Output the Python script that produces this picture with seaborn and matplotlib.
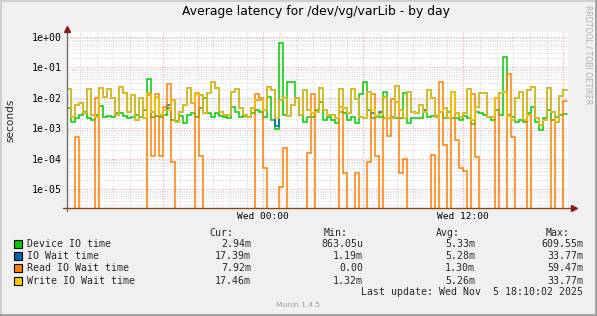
import numpy as np
import pandas as pd
import matplotlib
matplotlib.use("Agg")
import matplotlib.pyplot as plt
import matplotlib.dates as mdates
import matplotlib.ticker as mticker
from matplotlib.patches import Rectangle
from matplotlib.lines import Line2D
import seaborn as sns

# ---------------- data ----------------
series_names = ["Device IO time", "IO Wait time", "Read IO Wait time", "Write IO Wait time"]
series_colors = ["#00CC00", "#0066B3", "#FF8000", "#FFCC00"]

start_time = "2025-11-04 12:13:12"
sample_step = "864s"

device_io = [
    0.0045, 0.00163, 0.0021, 0.0027, 0.0035, 0.0021, 0.00185, 0.0027, 0.0053, 0.0024, 0.0025, 0.0023, 0.0032,
    0.0032, 0.0025, 0.0021, 0.0024, 0.0027, 0.0023, 0.0039, 0.040, 0.0023, 0.0025, 0.0023, 0.0027,
    0.0045, 0.00185, 0.00176, 0.0025, 0.00144, 0.0027, 0.0032, 0.0024, 0.0045, 0.0095, 0.0031, 0.0024, 0.0031,
    0.0025, 0.0024, 0.0021, 0.0051, 0.0035, 0.0023, 0.0025, 0.0023, 0.0032, 0.0041, 0.0035, 0.0023,
    0.0108, 0.00185, 0.00095, 0.60955, 0.0027, 0.0335, 0.0335, 0.0095, 0.0027, 0.00163, 0.0023, 0.0023, 0.0039,
    0.0074, 0.0019, 0.0023, 0.00185, 0.00151, 0.0035, 0.0032, 0.0019, 0.0023, 0.00144, 0.0132, 0.0335,
    0.0039, 0.0021, 0.0023, 0.0024, 0.0157, 0.0021, 0.0024, 0.0021, 0.0021, 0.0139, 0.00144, 0.0021, 0.0021,
    0.0021, 0.0035, 0.0023, 0.0025, 0.0025, 0.0035, 0.0021, 0.0035, 0.0021, 0.0021, 0.0019, 0.0025,
    0.0021, 0.00137, 0.0035, 0.0031, 0.0027, 0.0023, 0.00185, 0.0039, 0.0027, 0.21, 0.0027, 0.0023, 0.00163,
    0.00185, 0.00163, 0.0031, 0.0051, 0.00163, 0.000863, 0.0021, 0.0039, 0.00185, 0.0023, 0.0027, 0.00294,
]

write_io_wait = [
    0.0188, 0.0023, 0.0058, 0.0069, 0.0031, 0.0188, 0.0027, 0.0023, 0.0202, 0.0108, 0.0188, 0.0095, 0.0027,
    0.0230, 0.0139, 0.0035, 0.0122, 0.00185, 0.0095, 0.0021, 0.0139, 0.0035, 0.0108, 0.0027, 0.0041,
    0.0039, 0.0084, 0.00163, 0.0035, 0.0058, 0.0202, 0.0069, 0.0139, 0.0122, 0.0031, 0.0139, 0.03377, 0.0202,
    0.0035, 0.0027, 0.0027, 0.0157, 0.0188, 0.0045, 0.0027, 0.0023, 0.0045, 0.0084, 0.0084, 0.0039,
    0.0218, 0.0178, 0.0021, 0.0084, 0.0095, 0.0025, 0.0058, 0.0095, 0.0027, 0.0178, 0.0039, 0.0031, 0.0035,
    0.0202, 0.0039, 0.0027, 0.0027, 0.0021, 0.0188, 0.0045, 0.0031, 0.0188, 0.0088, 0.0024, 0.0021,
    0.0157, 0.0039, 0.0025, 0.0029, 0.0108, 0.0021, 0.0021, 0.0241, 0.0039, 0.0021, 0.0157, 0.0035, 0.0031,
    0.0058, 0.0035, 0.0178, 0.0095, 0.0023, 0.0035, 0.0045, 0.0021, 0.0157, 0.0032, 0.0024, 0.0031,
    0.0188, 0.00185, 0.0048, 0.0146, 0.0146, 0.0024, 0.0023, 0.0095, 0.0139, 0.0157, 0.0025, 0.00185, 0.0095,
    0.0157, 0.00185, 0.0178, 0.0218, 0.0021, 0.00132, 0.0019, 0.0202, 0.0035, 0.00163, 0.0113, 0.01746,
]

io_wait = [
    0.0188, 0.0023, 0.0058, 0.0069, 0.0031, 0.0188, 0.0027, 0.0023, 0.0202, 0.0108, 0.0188, 0.0095, 0.0027,
    0.0230, 0.0139, 0.0035, 0.0122, 0.00185, 0.0095, 0.0021, 0.0139, 0.0035, 0.0108, 0.0027, 0.0041,
    0.0058, 0.0084, 0.00163, 0.0035, 0.0058, 0.0202, 0.0069, 0.0139, 0.0122, 0.0031, 0.0139, 0.03377, 0.0202,
    0.0035, 0.0027, 0.0027, 0.0157, 0.0188, 0.0045, 0.0027, 0.0023, 0.0045, 0.0084, 0.0084, 0.0039,
    0.0218, 0.0178, 0.00119, 0.0084, 0.0095, 0.0025, 0.0058, 0.0095, 0.0027, 0.0178, 0.0039, 0.0031, 0.0035,
    0.0202, 0.0039, 0.0027, 0.0027, 0.0021, 0.0188, 0.0045, 0.0031, 0.0188, 0.0088, 0.0024, 0.0021,
    0.0157, 0.0031, 0.0025, 0.0035, 0.0108, 0.0021, 0.0021, 0.0241, 0.0039, 0.0021, 0.0157, 0.0035, 0.0031,
    0.0058, 0.0039, 0.0178, 0.0095, 0.0023, 0.0035, 0.0045, 0.0021, 0.0157, 0.0032, 0.0024, 0.0031,
    0.0188, 0.00185, 0.0048, 0.0146, 0.0146, 0.0024, 0.0023, 0.0095, 0.0139, 0.0157, 0.0025, 0.00185, 0.0095,
    0.0157, 0.00185, 0.0178, 0.0218, 0.0021, 0.00132, 0.0019, 0.0202, 0.0035, 0.00163, 0.0113, 0.01739,
]

read_io_wait = [
    0, 0, 5e-4, 0, 0, 0, 0, 1e-2, 0, 0, 0, 0, 0,
    0, 0, 0, 0, 0, 0, 0, 1.2e-2, 1.2e-4, 1.3e-2, 1.2e-4, 5e-3,
    2.8e-2, 8e-5, 0, 0, 0, 0, 0, 1.3e-2, 1.2e-4, 0, 0, 0, 0,
    0, 0, 0, 0, 0, 0, 0, 0, 0, 1.3e-2, 1.0e-2, 5e-5,
    0, 0, 0, 1.2e-5, 2.2e-4, 0, 0, 0, 0, 0, 1.5e-4, 1.3e-2, 0,
    0, 0, 0, 0, 0, 5e-3, 3.5e-5, 0, 0, 3.5e-5, 0, 0,
    8e-5, 1.3e-2, 1.2e-4, 0, 2.1e-3, 5.5e-4, 8.8e-3, 7.4e-3, 3.5e-5, 1e-4, 0, 0, 0,
    0, 0, 0, 1.3e-4, 0, 3.3e-2, 2.8e-4, 0, 1.5e-2, 4e-4, 5e-5, 4e-5,
    0, 1.3e-2, 1.1e-4, 0, 0, 0, 0, 9.5e-3, 0, 0, 0.05947, 5e-4, 0,
    0, 0, 2.7e-3, 0, 0, 0, 0, 0, 1.85e-3, 0, 0, 0.00792,
]

stat_headers = ["Cur:", "Min:", "Avg:", "Max:"]
stat_cur = ["2.94m", "17.39m", "7.92m", "17.46m"]
stat_min = ["863.05u", "1.19m", "0.00", "1.32m"]
stat_avg = ["5.33m", "5.28m", "1.30m", "5.26m"]
stat_max = ["609.55m", "33.77m", "59.47m", "33.77m"]

title = "Average latency for /dev/vg/varLib - by day"
y_label = "seconds"
last_update = "Last update: Wed Nov  5 18:10:02 2025"
watermark = "RRDTOOL / TOBI OETIKER"
footer = "Munin 1.4.5"

# ---------------- figure ----------------
sns.set_style("white")
W, H = 597, 316
fig = plt.figure(figsize=(W / 100, H / 100), dpi=100, facecolor="#F0F0F0")


def fx(px):
    return px / W


def fy(py):
    return 1 - py / H


MONO = "DejaVu Sans Mono"
SANS = "DejaVu Sans"

ax = fig.add_axes([fx(67), fy(208), fx(568) - fx(67), fy(32) - fy(208)])
ax.set_facecolor("white")

n = len(device_io)
times = pd.date_range(start_time, periods=n + 1, freq=sample_step)
frames = []
for name, vals in zip(series_names, [device_io, io_wait, read_io_wait, write_io_wait]):
    v = list(vals) + [vals[-1]]
    frames.append(pd.DataFrame({"time": times, "value": v, "series": name}))
df = pd.concat(frames, ignore_index=True)

sns.lineplot(data=df, x="time", y="value", hue="series", hue_order=series_names,
             palette=series_colors, drawstyle="steps-post",
             legend=False, estimator=None, ax=ax, zorder=3)
for ln in ax.lines:
    ln.set_linewidth(1.1)
    ln.set_antialiased(True)
    ln.set_solid_joinstyle("miter")

ax.set_yscale("log")
ax.set_ylim(2.42e-6, 1.43)
t0 = pd.Timestamp(start_time)
ax.set_xlim(t0, t0 + pd.Timedelta(seconds=216 * 501))

ax.xaxis.set_major_locator(mdates.HourLocator(byhour=[0, 6, 12, 18]))
ax.xaxis.set_minor_locator(mdates.HourLocator())


def xfmt(v, pos):
    d = mdates.num2date(v)
    if d.hour in (0, 12) and d.minute == 0:
        return d.strftime("%a %H:%M")
    return ""


ax.xaxis.set_major_formatter(mticker.FuncFormatter(xfmt))
ax.yaxis.set_major_locator(mticker.LogLocator(base=10, numticks=20))
ax.yaxis.set_minor_locator(mticker.LogLocator(base=10, subs=np.arange(2, 10), numticks=20))
ax.yaxis.set_major_formatter(mticker.FuncFormatter(lambda v, p: f"{v:.0e}"))
ax.yaxis.set_minor_formatter(mticker.NullFormatter())

ax.grid(which="minor", color="#D4D4D4", linestyle=(0, (1, 1.5)), linewidth=0.7, zorder=1)
ax.grid(which="major", color="#E8A8A8", linestyle=(0, (1, 1.5)), linewidth=0.8, zorder=1)
ax.set_axisbelow(True)

ax.tick_params(which="both", length=0)
ax.tick_params(axis="y", pad=3.6, labelsize=7.1, labelcolor="#000000")
ax.tick_params(axis="x", pad=3.0, labelsize=6.8, labelcolor="#000000")
for lab in ax.get_yticklabels() + ax.get_xticklabels():
    lab.set_family(MONO)
ax.set_xlabel("")
ax.set_ylabel("")
for s in ax.spines.values():
    s.set_visible(False)

# axis lines with arrows
fig.add_artist(Line2D([fx(67), fx(67)], [fy(211), fy(29)], color="#707070", lw=1.0))
fig.add_artist(Line2D([fx(63), fx(573)], [fy(208), fy(208)], color="#8B4513", lw=1.0))
fig.add_artist(Line2D([fx(67)], [fy(29)], marker="^", color="#8B1A1A", markersize=4.5, lw=0))
fig.add_artist(Line2D([fx(574)], [fy(208)], marker=">", color="#8B1A1A", markersize=4.5, lw=0))

# frame shading
fig.add_artist(Line2D([0, 1], [fy(0.5), fy(0.5)], color="#CFCFCF", lw=1.5))
fig.add_artist(Line2D([fx(0.5), fx(0.5)], [0, 1], color="#CFCFCF", lw=1.5))
fig.add_artist(Line2D([0, 1], [fy(315.2), fy(315.2)], color="#9E9E9E", lw=2))
fig.add_artist(Line2D([fx(596.2), fx(596.2)], [0, 1], color="#9E9E9E", lw=2))

# texts
fig.text(fx(316.5), fy(12), title, ha="center", va="center", fontsize=8.9, family=SANS, color="#000000")
fig.text(fx(10), fy(120), y_label, ha="center", va="center", rotation=90, fontsize=7.6, family=SANS)
fig.text(fx(588), fy(5), watermark, ha="center", va="top", rotation=270, fontsize=5.6,
         family=SANS, color="#B0B0B0")

# legend
row_y = [244.3, 256.3, 268.3, 280.5]
header_y = 233
fs = 7.1
for hdr, xr in zip(stat_headers, [233, 348, 460, 570]):
    fig.text(fx(xr), fy(header_y), hdr, ha="right", va="center", fontsize=fs, family=MONO)
for i, (name, col) in enumerate(zip(series_names, series_colors)):
    yc = row_y[i]
    fig.add_artist(Rectangle((fx(13.5), fy(yc + 4)), fx(8), 8 / H, facecolor=col,
                             edgecolor="#000000", lw=0.8, transform=fig.transFigure))
    fig.text(fx(27), fy(yc), name, ha="left", va="center", fontsize=fs, family=MONO)
    for vals, xr in zip([stat_cur, stat_min, stat_avg, stat_max], [251, 363, 475, 583]):
        fig.text(fx(xr), fy(yc), vals[i], ha="right", va="center", fontsize=fs, family=MONO)

fig.text(fx(583), fy(292), last_update, ha="right", va="center", fontsize=fs, family=MONO)
fig.text(fx(298), fy(305), footer, ha="center", va="center", fontsize=5.4, family=SANS, color="#9A9A9A")

fig.savefig("out.png", dpi=100, facecolor=fig.get_facecolor())
